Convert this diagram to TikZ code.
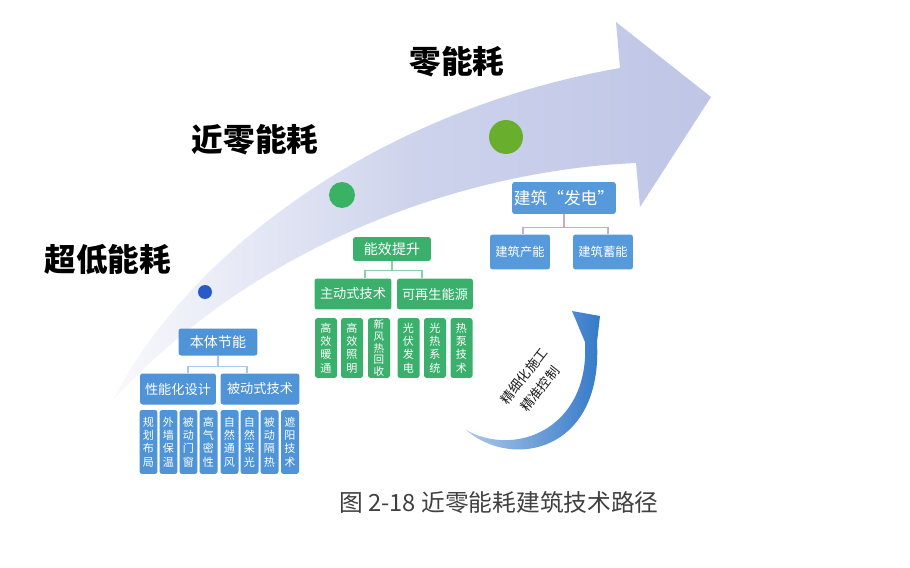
\documentclass[tikz,border=0pt]{standalone}
\usepackage{fontspec}
\setmainfont{Noto Sans CJK SC}
\usetikzlibrary{arrows.meta, calc}
\definecolor{boxblue}{RGB}{78,148,214}
\definecolor{boxgreen}{RGB}{58,176,108}
\definecolor{fdblue}{RGB}{86,154,220}
\definecolor{lavender}{RGB}{190,197,230}
\definecolor{loopblue}{RGB}{50,120,200}
\definecolor{dotblue}{RGB}{40,90,200}
\definecolor{dotgreen}{RGB}{58,178,100}
\definecolor{dotolive}{RGB}{106,174,46}
\definecolor{mauve}{RGB}{200,170,205}
\tikzset{
  treebox/.style={
    rectangle, rounded corners=1.5pt, inner sep=1pt,
    align=center, fill=#1, text=white,
    font=\fontsize{7.5}{9}\selectfont
  },
  leafbox/.style={
    treebox=#1, minimum width=0.36cm, minimum height=1.28cm,
    font=\fontsize{6.3}{7.6}\selectfont
  },
  treeline/.style={draw=#1, line width=0.6pt},
  stagelabel/.style={font=\fontsize{18}{20}\selectfont\bfseries, text=black},
  stagedot/.style={circle, fill=#1, inner sep=0pt},
  looptext/.style={rotate=52, inner sep=0pt, font=\fontsize{7.5}{9}\selectfont, text=black!90},
}

\begin{document}
\begin{tikzpicture}[x=0.02cm, y=-0.02cm]
  \useasboundingbox[fill=white] (0,0) rectangle (910,568);
  % rising arrow
  \shade[left color=lavender!10, right color=lavender, middle color=lavender!75]
    (113,400) .. controls (190,250) and (380,110) .. (620,68)
    -- (616,22) -- (711,97) -- (640,207) -- (636,163)
    .. controls (470,170) and (260,240) .. cycle;
  \node[stagedot=dotblue,  minimum size=0.28cm] (d1) at (205,292) {};
  \node[stagedot=dotgreen, minimum size=0.52cm] (d2) at (342,195) {};
  \node[stagedot=dotolive, minimum size=0.68cm] (d3) at (506,137) {};
  \node[stagelabel] (s1) at (108,260) {超低能耗};
  \node[stagelabel] (s2) at (255,140) {近零能耗};
  \node[stagelabel] (s3) at (457,62)  {零能耗};

  % tree 1
  \node[treebox=boxblue, minimum width=1.58cm, minimum height=0.54cm,
        font=\fontsize{8}{9}\selectfont] (btjn) at (218,342) {本体节能};
  \node[treebox=boxblue, minimum width=1.52cm, minimum height=0.62cm] (xnsj) at (178,389) {性能化设计};
  \node[treebox=boxblue, minimum width=1.58cm, minimum height=0.62cm] (bdjs) at (260,389) {被动式技术};
  \draw[treeline=boxblue!50] (btjn.south) -- ++(0,11) -| ([xshift=0.2cm]xnsj.north);
  \draw[treeline=boxblue!50] (btjn.south) -- ++(0,11) -| ([xshift=-0.26cm]bdjs.north);
  \foreach \x/\t [count=\i] in {148.5/规\\划\\布\\局, 168.5/外\\墙\\保\\温,
      188.5/被\\动\\门\\窗, 208.5/高\\气\\密\\性, 229.5/自\\然\\通\\风,
      249.5/自\\然\\采\\光, 269.5/被\\动\\隔\\热, 290/遮\\阳\\技\\术}
    \node[leafbox=boxblue] (bl\i) at (\x,442) {\t};

  % tree 2
  \node[treebox=boxgreen, minimum width=1.56cm, minimum height=0.48cm,
        font=\fontsize{8}{9}\selectfont] (nxts) at (392,249) {能效提升};
  \node[treebox=boxgreen, minimum width=1.54cm, minimum height=0.62cm] (zdjs) at (353,294) {主动式技术};
  \node[treebox=boxgreen, minimum width=1.52cm, minimum height=0.62cm] (kzsn) at (435,294) {可再生能源};
  \draw[treeline=boxgreen!60] (nxts.south) -- ++(0,9) -| ([xshift=0.24cm]zdjs.north);
  \draw[treeline=boxgreen!60] (nxts.south) -- ++(0,9) -| ([xshift=-0.26cm]kzsn.north);
  \foreach \x/\t [count=\i] in {326/高\\效\\暖\\通, 352/高\\效\\照\\明,
      408.5/光\\伏\\发\\电, 435/光\\热\\系\\统, 461.5/热\\泵\\技\\术}
    \node[leafbox=boxgreen, minimum width=0.44cm, minimum height=1.2cm] (gl\i) at (\x,348) {\t};
  \node[leafbox=boxgreen, minimum width=0.44cm, minimum height=1.2cm,
        font=\fontsize{6}{6.6}\selectfont] (gl6) at (379,348) {新\\风\\热\\回\\收};

  % tree 3
  \node[treebox=fdblue, minimum width=2cm, minimum height=0.64cm,
        font=\fontsize{9.5}{11}\selectfont] (jzfd) at (564,198) {建筑“发电”};
  \node[treebox=fdblue, minimum width=1.2cm, minimum height=0.7cm,
        font=\fontsize{7}{8}\selectfont] (jzcn) at (520,252) {建筑产能};
  \node[treebox=fdblue, minimum width=1.2cm, minimum height=0.7cm,
        font=\fontsize{7}{8}\selectfont] (jzxn) at (603,252) {建筑蓄能};
  \draw[treeline=mauve] (jzfd.south) -- ++(0,13) -| ([xshift=0.06cm]jzcn.north);
  \draw[treeline=mauve] (jzfd.south) -- ++(0,13) -| ([xshift=0.1cm]jzxn.north);

  % loop arrow
  \shade[left color=loopblue!40, right color=loopblue]
    (466,430) .. controls (512,470) and (603,452) .. (597,342)
    -- (600,316) -- (572,311) -- (585,342)
    .. controls (590,428) and (516,458) .. cycle;
  \node[looptext] (jxsg) at (524,376) {精细化施工};
  \node[looptext] (jzkz) at (540,389) {精准控制};

  \node[font=\fontsize{13.5}{15}\selectfont, text=black!75] (cap) at (499,503)
    {图 2-18 近零能耗建筑技术路径};
\end{tikzpicture}
\end{document}
